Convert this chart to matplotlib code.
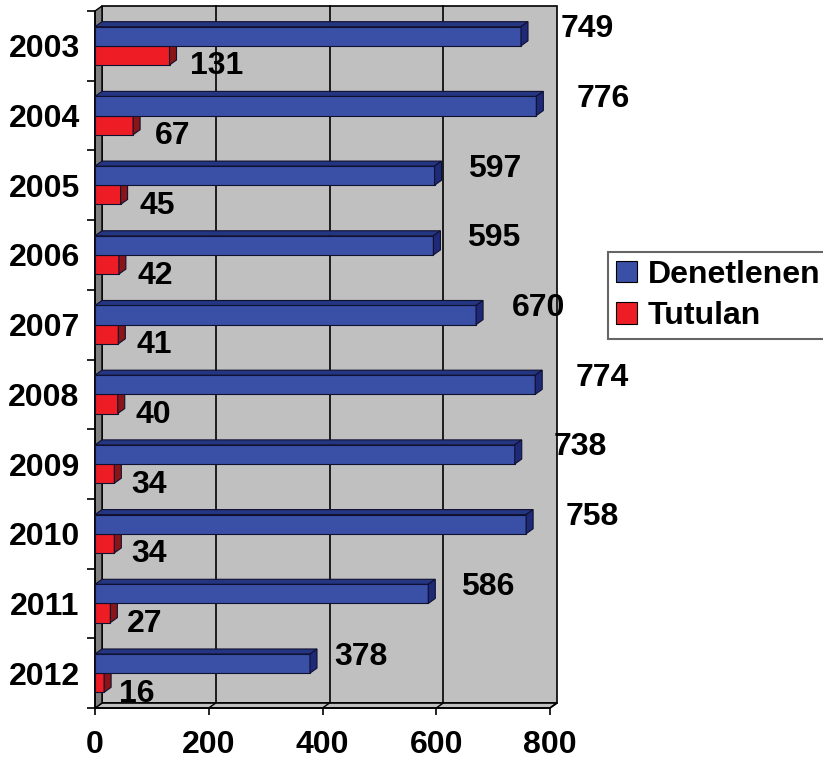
import matplotlib
matplotlib.use("Agg")
import matplotlib.pyplot as plt
from matplotlib.patches import Polygon, Patch
from matplotlib.lines import Line2D
import numpy as np

plt.rcParams['font.family'] = ['Liberation Sans', 'DejaVu Sans']
plt.rcParams['font.weight'] = 'bold'

years = ['2003', '2004', '2005', '2006', '2007', '2008', '2009', '2010', '2011', '2012']
denetlenen = [749, 776, 597, 595, 670, 774, 738, 758, 586, 378]
tutulan = [131, 67, 45, 42, 41, 40, 34, 34, 27, 16]
series_names = ['Denetlenen', 'Tutulan']
xticks = [0, 200, 400, 600, 800]

W, H = 823, 760
fig = plt.figure(figsize=(W / 100, H / 100), dpi=100)
fig.patch.set_facecolor('white')

# front plane geometry in pixels
x0p, x1p = 95, 550
ytop, ybot = 11, 708
ax = fig.add_axes([x0p / W, (H - ybot) / H, (x1p - x0p) / W, (ybot - ytop) / H])
ax.set_xlim(0, 800)
ax.set_ylim(len(years), 0)
ax.set_facecolor('none')
for s in ax.spines.values():
    s.set_visible(False)

px_x = (x1p - x0p) / 800.0          # pixels per x unit
px_y = (ybot - ytop) / len(years)   # pixels per band
DX, DY = 7, 5                       # depth offset in pixels
ddx = DX / px_x
ddy = DY / px_y

wall_grey = '#C0C0C0'
side_grey = '#808080'
n = len(years)

# back wall
ax.add_patch(Polygon([(ddx, -ddy), (800 + ddx, -ddy), (800 + ddx, n - ddy), (ddx, n - ddy)],
                     closed=True, facecolor=wall_grey, edgecolor='black', lw=1.2,
                     clip_on=False, zorder=0))
for g in xticks[1:-1]:
    ax.add_line(Line2D([g + ddx, g + ddx], [-ddy, n - ddy], color='black', lw=1.2,
                       clip_on=False, zorder=0.5))
# floor
ax.add_patch(Polygon([(0, n), (800, n), (800 + ddx, n - ddy), (ddx, n - ddy)],
                     closed=True, facecolor=wall_grey, edgecolor='black', lw=1.2,
                     clip_on=False, zorder=0.6))
for g in xticks[1:]:
    ax.add_line(Line2D([g, g + ddx], [n, n - ddy], color='black', lw=1.0,
                       clip_on=False, zorder=0.7))
# left wall
ax.add_patch(Polygon([(0, 0), (ddx, -ddy), (ddx, n - ddy), (0, n)],
                     closed=True, facecolor=side_grey, edgecolor='black', lw=1.0,
                     clip_on=False, zorder=0.8))

blue_front, blue_top, blue_side = '#3A50A6', '#243682', '#1E2A78'
red_front, red_top, red_side = '#EE1D25', '#A01418', '#8A1518'

bh = 0.275
b_off = 0.225
r_off = 0.50


def bar3d(v, y, front, top, side, z):
    # front face
    ax.add_patch(Polygon([(0, y), (v, y), (v, y + bh), (0, y + bh)], closed=True,
                         facecolor=front, edgecolor='#101030', lw=0.8, zorder=z, clip_on=False))
    # top face
    ax.add_patch(Polygon([(0, y), (v, y), (v + ddx, y - ddy), (ddx, y - ddy)], closed=True,
                         facecolor=top, edgecolor='#101030', lw=0.8, zorder=z, clip_on=False))
    # side face
    ax.add_patch(Polygon([(v, y), (v + ddx, y - ddy), (v + ddx, y + bh - ddy), (v, y + bh)],
                         closed=True, facecolor=side, edgecolor='#101030', lw=0.8, zorder=z,
                         clip_on=False))


fs = 23
for i in range(n):
    yb = i + b_off
    yr = i + r_off
    bar3d(tutulan[i], yr, red_front, red_top, red_side, 2 + i * 0.01)
    bar3d(denetlenen[i], yb, blue_front, blue_top, blue_side, 3 + i * 0.01)
    # labels
    vb = denetlenen[i]
    xb = vb + (36 + 0.04 * vb) / px_x
    ybl = yb + bh / 2 - 7 / px_y
    ax.text(xb, ybl, str(vb), ha='center', va='center', fontsize=fs, fontweight='bold',
            color='black', clip_on=False, zorder=5)
    vr = tutulan[i]
    xr = vr + (31 + 0.12 * vr) / px_x
    yrl = yr + bh / 2 + 11 / px_y
    ax.text(xr, yrl, str(vr), ha='center', va='center', fontsize=fs, fontweight='bold',
            color='black', clip_on=False, zorder=5)

# front axis lines
ax.add_line(Line2D([0, 0], [0, n], color='black', lw=1.2, clip_on=False, zorder=1))
ax.add_line(Line2D([0, 800], [n, n], color='black', lw=1.2, clip_on=False, zorder=1))

# ticks
ax.set_xticks(xticks)
ax.set_xticklabels([str(t) for t in xticks], fontsize=fs, fontweight='bold')
ax.tick_params(axis='x', direction='out', length=5, width=1.2, pad=11, color='black')
ax.set_yticks(np.arange(n) + 0.5)
ax.set_yticklabels(years, fontsize=fs, fontweight='bold')
ax.set_yticks(np.arange(n + 1), minor=True)
ax.tick_params(axis='y', which='major', length=0, pad=11)
ax.tick_params(axis='y', which='minor', direction='out', length=6, width=1.2, color='black')

# legend
handles = [Patch(facecolor=blue_front, edgecolor='black', lw=0.8),
           Patch(facecolor=red_front, edgecolor='black', lw=0.8)]
leg = fig.legend(handles, series_names, loc='upper left',
                 bbox_to_anchor=(608 / W, 1 - 252 / H),
                 prop={'weight': 'bold', 'size': fs}, frameon=True, fancybox=False,
                 handlelength=0.65, handleheight=0.65, handletextpad=0.35,
                 borderpad=0.25, labelspacing=0.35, borderaxespad=0)
leg.get_frame().set_edgecolor('#404040')
leg.get_frame().set_linewidth(1.5)

fig.savefig('out.png', dpi=100)
